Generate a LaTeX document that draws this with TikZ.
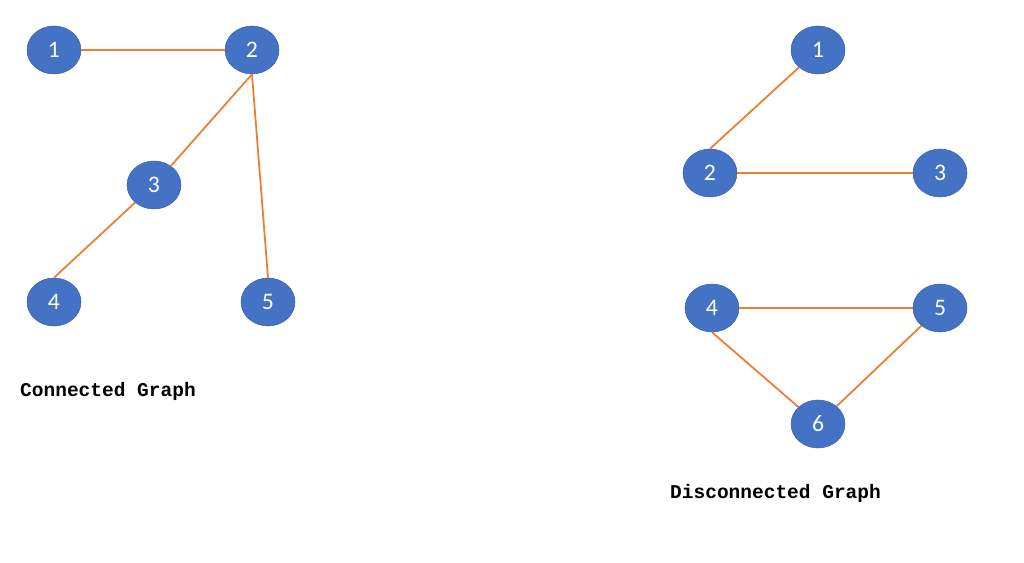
\documentclass[tikz,border=0pt]{standalone}
\usepackage{fontspec}
\usepackage{xcolor}
\usepackage{tikz}
\usetikzlibrary{shapes.geometric,positioning}
\newfontfamily\nodefont{Carlito}
\newfontfamily\captionfont{Liberation Mono}
\definecolor{vertexblue}{RGB}{68,114,196}
\definecolor{edgeorange}{RGB}{237,125,49}

\begin{document}
\begin{tikzpicture}[
  x=0.02cm, y=-0.02cm,
  vertex/.style={ellipse, fill=vertexblue, draw=vertexblue!85!black, line width=0.3pt,
      minimum width=1.08cm, minimum height=0.96cm, inner sep=0pt,
      text=white, font=\nodefont\fontsize{13.5}{15}\selectfont},
  edge/.style={draw=edgeorange, line width=1pt},
  caption/.style={font=\captionfont\bfseries\fontsize{11.1}{13}\selectfont, anchor=west}
]
\useasboundingbox (0,0) rectangle (1024,563);

% connected graph
\node[vertex] (c1) at (54,50)  {1};
\node[vertex] (c2) at (252,50) {2};
\node[vertex] (c3) at (154,185) {3};
\node[vertex] (c4) at (54,302) {4};
\node[vertex] (c5) at (268,302) {5};
\node[caption] (cap1) at (14,391) {Connected Graph};

\draw[edge] (c1) -- (c2);
\draw[edge] (c2.south) -- (c3);
\draw[edge] (c2.south) -- (c5.north);
\draw[edge] (c3) -- (c4.north);

% disconnected graph
\node[vertex] (d1) at (818,50)  {1};
\node[vertex] (d2) at (710,173) {2};
\node[vertex] (d3) at (940,173) {3};
\node[vertex] (d4) at (712,308) {4};
\node[vertex] (d5) at (940,308) {5};
\node[vertex] (d6) at (818,424) {6};
\node[caption] (cap2) at (664,493) {Disconnected Graph};

\draw[edge] (d1) -- (d2.north);
\draw[edge] (d2) -- (d3);
\draw[edge] (d4) -- (d5);
\draw[edge] (d4.south) -- (d6);
\draw[edge] (d5) -- (d6);
\end{tikzpicture}
\end{document}
